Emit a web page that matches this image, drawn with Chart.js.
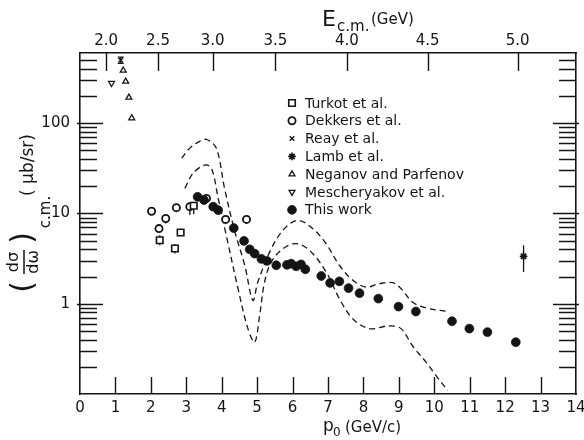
<!DOCTYPE html>
<html>
<head>
<meta charset="utf-8">
<script src="https://cdn.jsdelivr.net/npm/chart.js@4.4.0/dist/chart.umd.min.js"></script>
<style>
  html, body { margin: 0; padding: 0; background: #fff; }
  #wrap { width: 584px; height: 440px; }
</style>
</head>
<body>
<div id="wrap"><canvas id="chart" width="584" height="440"></canvas></div>
<script>
// p0 in GeV/c, d(sigma)/d(omega) c.m. in microbarn/sr

// This work
const workP = [3.32, 3.50, 3.76, 3.90, 4.34, 4.63, 4.79, 4.93, 5.12, 5.28, 5.54, 5.84, 5.96, 6.10,
               6.24, 6.36, 6.81, 7.06, 7.32, 7.58, 7.89, 8.42, 8.99, 9.48, 10.50, 10.99, 11.50, 12.30];
const workV = [15.3, 14.1, 11.9, 10.9, 6.9, 4.97, 4.01, 3.59, 3.14, 2.98, 2.67, 2.70, 2.78, 2.60,
               2.73, 2.41, 2.03, 1.70, 1.77, 1.49, 1.31, 1.14, 0.93, 0.82, 0.64, 0.53, 0.485, 0.375];

// Turkot et al.
const turkotP = [2.25, 2.68, 2.84, 3.21];
const turkotV = [5.05, 4.1, 6.15, 12.2];
const turkotErr = [[4.45, 5.75], [3.6, 4.6], null, [9.8, 13.5]];

// Dekkers et al.
const dekkersP = [2.02, 2.23, 2.42, 2.72, 3.10, 3.57, 4.11, 4.70];
const dekkersV = [10.6, 6.8, 8.8, 11.6, 11.9, 14.7, 8.6, 8.6];
const dekkersErr = [null, [6.25, 7.4], [7.75, 9.7], null, [9.6, 13], null, null, null];

// Reay et al.
const reayP = [1.15];
const reayV = [500];
const reayErr = [[460, 540]];

// Lamb et al.
const lambP = [12.52];
const lambV = [3.35];
const lambErr = [[2.25, 4.44]];

// Neganov and Parfenov
const neganovP = [1.22, 1.29, 1.38, 1.46];
const neganovV = [385, 290, 193, 114];

// Mescheryakov et al.
const meschP = [0.89];
const meschV = [278];

// dashed theory curves
const upperP = [2.87, 3.10, 3.38, 3.58, 3.85, 4.08, 4.37, 4.65, 4.88, 5.02, 5.40, 5.77, 6.15, 6.57,
                6.95, 7.32, 7.70, 8.08, 8.45, 8.83, 9.06, 9.39, 9.77, 10.38];
const upperV = [41, 53, 63, 66, 52.7, 19, 6.3, 2.67, 1.09, 1.74, 4.08, 6.8, 8.4, 6.8,
                4.6, 2.67, 1.82, 1.53, 1.67, 1.71, 1.47, 1.04, 0.90, 0.82];
const lowerP = [2.96, 3.19, 3.52, 3.71, 3.90, 4.13, 4.46, 4.74, 4.93, 5.07, 5.21, 5.40, 5.73, 6.10,
                6.48, 6.95, 7.32, 7.70, 8.17, 8.73, 9.06, 9.39, 9.77, 10.05, 10.38];
const lowerV = [19, 27.8, 34.4, 31.6, 14.7, 5.7, 1.47, 0.53, 0.375, 0.74, 1.74, 2.9, 4.08, 4.64,
                3.9, 2.25, 1.14, 0.68, 0.53, 0.57, 0.53, 0.34, 0.225, 0.16, 0.109];

// axes
const ecmLabels = ['2.0', '2.5', '3.0', '3.5', '4.0', '4.5', '5.0'];
const yLabels = [1, 10, 100];

const FONT = '"DejaVu Sans", sans-serif';
const INK = '#141414';
const M_P = 0.938;

// beam momentum for a given c.m. energy (proton-antiproton)
function pFromEcm(e) {
    const elab = (e * e - 2 * M_P * M_P) / (2 * M_P);
    return Math.sqrt(elab * elab - M_P * M_P);
}

function pts(xs, ys) {
    return xs.map((x, i) => ({x: x, y: ys[i]}));
}

function markerSet(label, xs, ys, style, r, fill, extra) {
    return Object.assign({
        label: label,
        data: pts(xs, ys),
        showLine: false,
        pointStyle: style,
        pointRadius: r,
        pointHoverRadius: r,
        pointBorderWidth: 1.6,
        pointBorderColor: INK,
        pointBackgroundColor: fill,
        legend: true,
        order: 1
    }, extra || {});
}

function curveSet(xs, ys) {
    return {
        label: 'curve',
        data: pts(xs, ys),
        showLine: true,
        borderColor: INK,
        borderWidth: 1.3,
        borderDash: [6, 4],
        pointRadius: 0,
        tension: 0.35,
        fill: false,
        order: 5
    };
}

// fixed box sizes so the plot frame sits where the original has it
function fixBox(w, h) {
    return s => {
        if (w !== null) s.width = w;
        if (h !== null) s.height = h;
        s.paddingLeft = 0;
        s.paddingRight = 0;
        s.paddingTop = 0;
        s.paddingBottom = 0;
    };
}

const errorBars = {
    id: 'errorBars',
    beforeDatasetsDraw(chart) {
        const ctx = chart.ctx;
        const xs = chart.scales.x, ys = chart.scales.y;
        ctx.save();
        ctx.strokeStyle = INK;
        ctx.lineWidth = 1.3;
        chart.data.datasets.forEach(d => {
            if (!d.errors) return;
            d.errors.forEach((e, i) => {
                if (!e) return;
                const px = xs.getPixelForValue(d.data[i].x);
                const lo = ys.getPixelForValue(e[0]);
                const hi = ys.getPixelForValue(e[1]);
                ctx.beginPath();
                ctx.moveTo(px, lo);
                ctx.lineTo(px, hi);
                if (d.caps) {
                    ctx.moveTo(px - 3, lo); ctx.lineTo(px + 3, lo);
                    ctx.moveTo(px - 3, hi); ctx.lineTo(px + 3, hi);
                }
                ctx.stroke();
            });
        });
        ctx.restore();
    }
};

const frameTicks = {
    id: 'frameTicks',
    afterDraw(chart) {
        const {ctx, chartArea: a} = chart;
        const xs = chart.scales.x, ys = chart.scales.y;
        ctx.save();
        ctx.strokeStyle = INK;
        ctx.lineWidth = 1.4;
        ctx.beginPath();
        for (let v = 1; v < 14; v++) {
            const px = Math.round(xs.getPixelForValue(v)) + 0.5;
            ctx.moveTo(px, a.bottom);
            ctx.lineTo(px, a.bottom - 17);
        }
        ecmLabels.forEach(e => {
            const px = Math.round(xs.getPixelForValue(pFromEcm(parseFloat(e)))) + 0.5;
            ctx.moveTo(px, a.top);
            ctx.lineTo(px, a.top + 18);
        });
        for (let k = -1; k <= 2; k++) {
            for (let m = 1; m <= 9; m++) {
                const v = m * Math.pow(10, k);
                if (v <= ys.min * 1.001 || v >= ys.max) continue;
                const py = Math.round(ys.getPixelForValue(v)) + 0.5;
                const len = m === 1 ? 23 : 17;
                const out = m === 1 ? 3 : 0;
                ctx.moveTo(a.left - out, py); ctx.lineTo(a.left + len, py);
                ctx.moveTo(a.right + out, py); ctx.lineTo(a.right - len, py);
            }
        }
        ctx.stroke();
        ctx.restore();
    }
};

const legendBox = {
    id: 'legendBox',
    afterDraw(chart) {
        const {ctx, chartArea: a} = chart;
        const x0 = a.left + 212, y0 = a.top + 50;
        ctx.save();
        ctx.font = '14px ' + FONT;
        ctx.textBaseline = 'middle';
        ctx.textAlign = 'left';
        chart.data.datasets.filter(d => d.legend).forEach((d, i) => {
            const y = y0 + i * 17.8;
            ctx.strokeStyle = INK;
            ctx.fillStyle = d.pointBackgroundColor;
            ctx.lineWidth = d.pointBorderWidth;
            Chart.helpers.drawPoint(ctx, {
                pointStyle: d.pointStyle,
                radius: d.pointRadius,
                borderWidth: d.pointBorderWidth,
                rotation: d.pointRotation || 0
            }, x0, y);
            ctx.fillStyle = INK;
            ctx.fillText(d.label, x0 + 13, y + 1);
        });
        ctx.restore();
    }
};

const axisTitles = {
    id: 'axisTitles',
    afterDraw(chart) {
        const {ctx, chartArea: a} = chart;
        ctx.save();
        ctx.fillStyle = INK;
        ctx.strokeStyle = INK;
        ctx.textBaseline = 'alphabetic';
        ctx.textAlign = 'left';

        // top: E c.m. (GeV)
        const tx = a.left + 242;
        ctx.font = '22px ' + FONT;
        ctx.fillText('E', tx, 26);
        ctx.font = '15px ' + FONT;
        ctx.fillText('c.m.', tx + 15, 31);
        ctx.fillText('(GeV)', tx + 49, 24);

        // bottom: p0 (GeV/c)
        const bx = a.left + 243;
        ctx.font = '17px ' + FONT;
        ctx.fillText('p', bx, 431);
        ctx.font = '12px ' + FONT;
        ctx.fillText('0', bx + 10, 436);
        ctx.font = '15px ' + FONT;
        ctx.fillText('(GeV/c)', bx + 22, 432);

        // left: (dsigma/domega) c.m. (microbarn/sr), rotated
        ctx.rotate(-Math.PI / 2);
        ctx.textAlign = 'center';
        ctx.textBaseline = 'middle';
        // screen (sx, sy) -> rotated (-sy, sx)
        ctx.font = '30px ' + FONT;
        ctx.fillText('(', -287, 24);
        ctx.fillText(')', -238, 24);
        ctx.font = '16px ' + FONT;
        ctx.fillText('d\u03c3', -262, 14);
        ctx.fillText('d\u03c9', -262, 34);
        ctx.lineWidth = 1.5;
        ctx.beginPath();
        ctx.moveTo(-274, 24);
        ctx.lineTo(-250, 24);
        ctx.stroke();
        ctx.font = '15px ' + FONT;
        ctx.fillText('c.m.', -212, 46);
        ctx.font = '17px ' + FONT;
        ctx.fillText('( \u03bcb/sr)', -165, 29);
        ctx.restore();
    }
};

const ctx = document.getElementById('chart').getContext('2d');
new Chart(ctx, {
    type: 'scatter',
    data: {
        datasets: [
            markerSet('Turkot et al.', turkotP, turkotV, 'rect', 4.6, '#fff', {errors: turkotErr}),
            markerSet('Dekkers et al.', dekkersP, dekkersV, 'circle', 3.6, '#fff', {errors: dekkersErr, pointBorderWidth: 1.8}),
            markerSet('Reay et al.', reayP, reayV, 'crossRot', 3.2, '#fff', {errors: reayErr, caps: true, pointBorderWidth: 1.4}),
            markerSet('Lamb et al.', lambP, lambV, 'star', 3.8, '#fff', {errors: lambErr, pointBorderWidth: 1.6}),
            markerSet('Neganov and Parfenov', neganovP, neganovV, 'triangle', 3.4, '#fff', {pointBorderWidth: 1.3}),
            markerSet('Mescheryakov et al.', meschP, meschV, 'triangle', 3.4, '#fff', {pointRotation: 180, pointBorderWidth: 1.3}),
            markerSet('This work', workP, workV, 'circle', 4.4, INK, {pointBorderWidth: 0.8, order: 0}),
            curveSet(upperP, upperV),
            curveSet(lowerP, lowerV)
        ]
    },
    options: {
        responsive: false,
        devicePixelRatio: 1,
        animation: false,
        layout: {padding: 0},
        plugins: {
            legend: {display: false},
            tooltip: {enabled: false}
        },
        scales: {
            x: {
                type: 'linear',
                position: 'bottom',
                min: 0,
                max: 14,
                afterFit: fixBox(null, 46),
                ticks: {stepSize: 1, color: INK, font: {family: FONT, size: 15}, padding: 5, maxRotation: 0},
                grid: {display: false, drawTicks: false},
                border: {display: true, color: INK, width: 1.6}
            },
            x2: {
                type: 'linear',
                position: 'top',
                min: 0,
                max: 14,
                afterFit: fixBox(null, 53),
                afterBuildTicks: s => { s.ticks = ecmLabels.map(e => ({value: pFromEcm(parseFloat(e))})); },
                ticks: {
                    color: INK,
                    font: {family: FONT, size: 15},
                    padding: 3,
                    maxRotation: 0,
                    autoSkip: false,
                    callback: (v, i) => ecmLabels[i]
                },
                grid: {display: false, drawTicks: false},
                border: {display: true, color: INK, width: 1.6}
            },
            y: {
                type: 'logarithmic',
                position: 'left',
                min: 0.1,
                max: 600,
                afterFit: fixBox(80, null),
                afterBuildTicks: s => { s.ticks = yLabels.map(v => ({value: v})); },
                ticks: {
                    color: INK,
                    font: {family: FONT, size: 15},
                    padding: 10,
                    autoSkip: false,
                    callback: v => String(v)
                },
                grid: {display: false, drawTicks: false},
                border: {display: true, color: INK, width: 1.6}
            },
            y2: {
                type: 'logarithmic',
                position: 'right',
                min: 0.1,
                max: 600,
                afterFit: fixBox(8, null),
                ticks: {display: false},
                grid: {display: false, drawTicks: false},
                border: {display: true, color: INK, width: 1.6}
            }
        }
    },
    plugins: [errorBars, frameTicks, legendBox, axisTitles]
});
</script>
</body>
</html>
